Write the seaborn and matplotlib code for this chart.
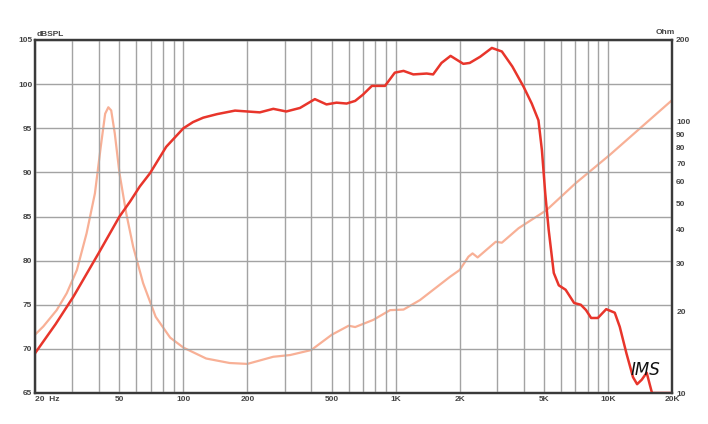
import matplotlib
matplotlib.use('Agg')
import matplotlib.pyplot as plt
import seaborn as sns

# SPL response (Hz, dB)
spl_freq = [20, 25, 30.3, 40, 50, 56.1, 62.3, 69.6, 76, 83, 91.5, 100, 111, 124, 144, 175,
            200, 229, 265, 305, 354, 416, 472, 526, 587, 644, 700, 772, 890, 990, 1088,
            1210, 1398, 1500, 1642, 1812, 2080, 2230, 2497, 2835, 3160, 3540, 4000, 4370,
            4700, 4880, 5060, 5250, 5550, 5860, 6310, 6920, 7440, 7870, 8320, 8950, 9800,
            10750, 11350, 12200, 13100, 13700, 14400, 15200, 15700, 16100, 20000]
spl_db = [69.5, 72.8, 75.9, 80.9, 85.0, 86.7, 88.4, 89.9, 91.4, 92.9, 94.0, 95.0, 95.7,
          96.2, 96.6, 97.0, 96.9, 96.8, 97.2, 96.9, 97.3, 98.3, 97.7, 97.9, 97.8, 98.1,
          98.8, 99.8, 99.8, 101.3, 101.5, 101.1, 101.2, 101.1, 102.4, 103.2, 102.3, 102.4,
          103.1, 104.1, 103.7, 102.0, 99.7, 97.8, 95.9, 92.5, 87.6, 83.5, 78.6, 77.2, 76.7,
          75.2, 75.0, 74.4, 73.5, 73.5, 74.5, 74.1, 72.5, 69.5, 66.8, 66.0, 66.5, 67.3,
          66.0, 65.0, 65.0]

# impedance (Hz, Ohm)
imp_freq = [20, 21.9, 25.3, 28.2, 31.5, 35, 38.3, 40.8, 42.8, 44.3, 45.7, 47.5, 50, 53.8,
            58, 64.6, 74, 86.6, 100, 128, 165, 200, 265, 318, 400, 500, 600, 644, 784, 940,
            1088, 1300, 1800, 2000, 2200, 2300, 2430, 2960, 3160, 3790, 5130, 7030, 10200,
            20000]
imp_ohm = [16.4, 17.6, 20.2, 23.3, 28.4, 38.8, 54.4, 80.8, 107, 113, 110, 90.6, 64.5, 45.9,
           34.6, 25.4, 19.1, 16.0, 14.7, 13.4, 12.9, 12.8, 13.6, 13.8, 14.4, 16.4, 17.7,
           17.5, 18.6, 20.2, 20.3, 22, 26.8, 28.4, 31.8, 32.7, 31.6, 36.1, 35.8, 40.5, 47.2,
           59.3, 75.5, 120]

grid_freqs = [20, 30, 40, 50, 60, 70, 80, 90, 100, 200, 300, 400, 500, 600, 700, 800, 900,
              1000, 2000, 3000, 4000, 5000, 6000, 7000, 8000, 9000, 10000, 20000]
freq_labels = {20: '20  Hz', 50: '50', 100: '100', 200: '200', 500: '500', 1000: '1K',
               2000: '2K', 5000: '5K', 10000: '10K', 20000: '20K'}
db_ticks = [65, 70, 75, 80, 85, 90, 95, 100, 105]
ohm_ticks = [10, 20, 30, 40, 50, 60, 70, 80, 90, 100]

sns.set_style('white')
plt.rcParams['font.family'] = ['Liberation Sans', 'DejaVu Sans']

txt = dict(fontsize=6, color='#444444', fontweight='bold')
red = '#e8352b'
salmon = '#f8b096'

fig = plt.figure(figsize=(7.08, 4.24), dpi=100)
ax = fig.add_axes([35 / 708, 31 / 424, 637 / 708, 353 / 424])
ax2 = ax.twinx()

sns.lineplot(x=imp_freq, y=imp_ohm, ax=ax2, color=salmon, linewidth=1.6)
sns.lineplot(x=spl_freq, y=spl_db, ax=ax, color=red, linewidth=1.8)
ax.set_zorder(ax2.get_zorder() + 1)
ax.patch.set_visible(False)

ax.set_xscale('log')
ax.set_xlim(20, 20000)
ax.set_ylim(65, 105)
ax2.set_yscale('log')
ax2.set_ylim(10, 200)

ax.set_xticks(grid_freqs)
ax.set_xticklabels([freq_labels.get(f, '') for f in grid_freqs], **txt)
ax.xaxis.set_minor_locator(matplotlib.ticker.NullLocator())
ax.get_xticklabels()[0].set_ha('left')
ax.set_yticks(db_ticks)
ax.set_yticklabels([str(v) for v in db_ticks], **txt)
ax.tick_params(length=0, pad=2)
ax.grid(True, color='#a3a3a3', linewidth=1.0)

ax2.set_yticks(ohm_ticks)
ax2.set_yticklabels([str(v) for v in ohm_ticks], **txt)
ax2.yaxis.set_minor_locator(matplotlib.ticker.NullLocator())
ax2.tick_params(length=0, pad=3)
ax2.grid(False)

for a in (ax, ax2):
    for s in a.spines.values():
        s.set_color('#3a3a3a')
        s.set_linewidth(1.6)

ax.text(0.003, 1.005, 'dBSPL', transform=ax.transAxes, ha='left', va='bottom', **txt)
ax.text(0.975, 1.012, 'Ohm', transform=ax.transAxes, ha='left', va='bottom', **txt)
ax.text(1.005, 0.998, '200', transform=ax.transAxes, ha='left', va='center', **txt)
ax.text(0.958, 0.04, 'IMS', transform=ax.transAxes, ha='center', va='bottom',
        fontsize=12, fontstyle='italic', color='#111111', family='DejaVu Sans')

fig.savefig('out.png', dpi=100)
